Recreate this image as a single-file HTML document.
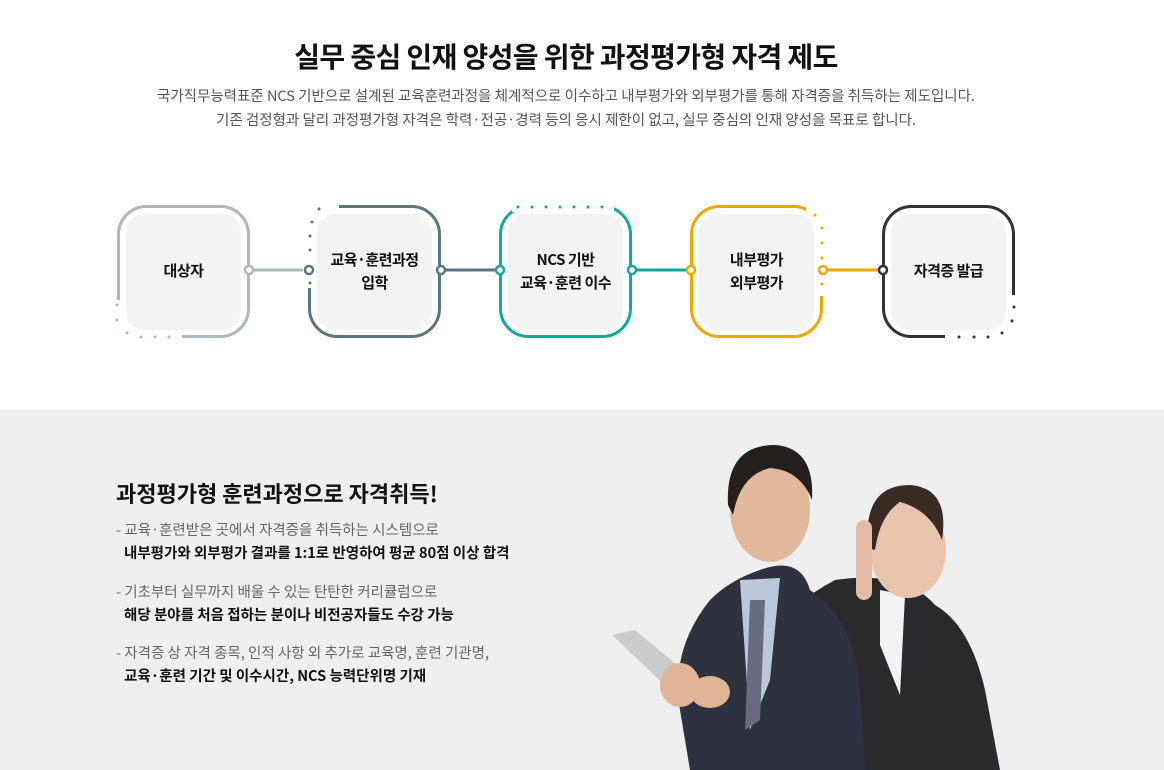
<!DOCTYPE html>
<html><head><meta charset="utf-8">
<style>
*{margin:0;padding:0;box-sizing:border-box}
body{width:1164px;height:770px;background:#fff;font-family:"Liberation Sans","Noto Sans CJK KR",sans-serif;position:relative;overflow:hidden;color:#111}
.abs{position:absolute}
h1{position:absolute;left:0;width:1132px;top:36px;text-align:center;font-size:28px;font-weight:700;letter-spacing:-0.6px;color:#111;font-family:"Noto Sans CJK KR",sans-serif}
.sub{position:absolute;left:0;width:1132px;text-align:center;font-size:14.5px;color:#555;letter-spacing:0;font-family:"Noto Sans CJK KR",sans-serif}
.lbl{position:absolute;width:115px;text-align:center;font-size:15px;font-weight:700;line-height:23px;color:#111;letter-spacing:-0.5px;font-family:"Noto Sans CJK KR",sans-serif}
.bottom{position:absolute;left:0;top:410px;width:1164px;height:360px;background:#efefef}
.h2{position:absolute;left:116px;top:477px;font-size:22px;font-weight:700;letter-spacing:0;font-family:"Noto Sans CJK KR",sans-serif}
.it{position:absolute;left:116px;font-size:14.5px;line-height:23px;letter-spacing:0;font-family:"Noto Sans CJK KR",sans-serif}
.it .g{color:#666}
.it .b{color:#111;font-weight:700;padding-left:8px}
</style></head><body>
<h1>실무 중심 인재 양성을 위한 과정평가형 자격 제도</h1>
<div class="sub" style="top:85px">국가직무능력표준 NCS 기반으로 설계된 교육훈련과정을 체계적으로 이수하고 내부평가와 외부평가를 통해 자격증을 취득하는 제도입니다.</div>
<div class="sub" style="top:109px">기존 검정형과 달리 과정평가형 자격은 학력·전공·경력 등의 응시 제한이 없고, 실무 중심의 인재 양성을 목표로 합니다.</div>

<svg class="abs" style="left:0;top:0" width="1164" height="410">
 <line x1="249" y1="270" x2="309" y2="270" stroke="#a9b9c2" stroke-width="3"/>
 <line x1="441" y1="270" x2="500" y2="270" stroke="#5a7680" stroke-width="3"/>
 <line x1="632" y1="270" x2="691" y2="270" stroke="#14a89a" stroke-width="3"/>
 <line x1="823" y1="270" x2="883" y2="270" stroke="#eaa800" stroke-width="3"/>
 <rect x="118.5" y="206.5" width="130" height="130" rx="28" fill="#fff" stroke="#a9b9c2" stroke-width="3"/>
 <rect x="112" y="300" width="70" height="45" fill="#fff"/>
 <g fill="#a9b9c2"><circle cx="117" cy="305" r="1.5"/><circle cx="117" cy="320" r="1.5"/><circle cx="127" cy="333" r="1.5"/><circle cx="141" cy="337" r="1.5"/><circle cx="155" cy="337" r="1.5"/><circle cx="169" cy="337" r="1.5"/></g>
 <rect x="309.5" y="206.5" width="130" height="130" rx="28" fill="#fff" stroke="#5a7680" stroke-width="3"/>
 <rect x="303" y="198" width="36" height="90" fill="#fff"/>
 <g fill="#5a7680"><circle cx="319" cy="209" r="1.5"/><circle cx="312" cy="222" r="1.5"/><circle cx="310" cy="236" r="1.5"/><circle cx="310" cy="250" r="1.5"/><circle cx="310" cy="283" r="1.5"/></g>
 <rect x="500.5" y="206.5" width="130" height="130" rx="28" fill="#fff" stroke="#14a89a" stroke-width="3"/>
 <rect x="512" y="200" width="102" height="12" fill="#fff"/>
 <g fill="#14a89a"><circle cx="518" cy="207" r="1.5"/><circle cx="532" cy="207" r="1.5"/><circle cx="546" cy="207" r="1.5"/><circle cx="560" cy="207" r="1.5"/><circle cx="574" cy="207" r="1.5"/><circle cx="588" cy="207" r="1.5"/><circle cx="602" cy="207" r="1.5"/></g>
 <rect x="691.5" y="206.5" width="130" height="130" rx="28" fill="#fff" stroke="#eaa800" stroke-width="3"/>
 <rect x="806" y="200" width="22" height="96" fill="#fff"/>
 <g fill="#eaa800"><circle cx="815" cy="215" r="1.5"/><circle cx="822" cy="228" r="1.5"/><circle cx="822" cy="243" r="1.5"/><circle cx="822" cy="258" r="1.5"/><circle cx="822" cy="284" r="1.5"/></g>
 <rect x="883.5" y="206.5" width="130" height="130" rx="28" fill="#fff" stroke="#333" stroke-width="3"/>
 <rect x="945" y="295" width="75" height="48" fill="#fff"/>
 <g fill="#333"><circle cx="1014" cy="307" r="1.5"/><circle cx="1012" cy="321" r="1.5"/><circle cx="1002" cy="333" r="1.5"/><circle cx="988" cy="337" r="1.5"/><circle cx="974" cy="337" r="1.5"/><circle cx="959" cy="337" r="1.5"/></g>
 <g fill="#f3f3f3">
  <rect x="126" y="214" width="115" height="116" rx="18"/>
  <rect x="317" y="214" width="115" height="116" rx="18"/>
  <rect x="508" y="214" width="115" height="116" rx="18"/>
  <rect x="699" y="214" width="115" height="116" rx="18"/>
  <rect x="891" y="214" width="115" height="116" rx="18"/>
 </g>
 <g fill="#fff" stroke-width="2.5">
  <circle cx="249" cy="270" r="4" stroke="#a9b9c2"/>
  <circle cx="309" cy="270" r="4" stroke="#5a7680"/>
  <circle cx="441" cy="270" r="4" stroke="#5a7680"/>
  <circle cx="500" cy="270" r="4" stroke="#14a89a"/>
  <circle cx="632" cy="270" r="4" stroke="#14a89a"/>
  <circle cx="691" cy="270" r="4" stroke="#eaa800"/>
  <circle cx="823" cy="270" r="4" stroke="#eaa800"/>
  <circle cx="883" cy="270" r="4" stroke="#333"/>
 </g>
</svg>
<div class="lbl" style="left:126px;top:259px">대상자</div>
<div class="lbl" style="left:317px;top:248px">교육·훈련과정<br>입학</div>
<div class="lbl" style="left:508px;top:248px">NCS 기반<br>교육·훈련 이수</div>
<div class="lbl" style="left:699px;top:248px">내부평가<br>외부평가</div>
<div class="lbl" style="left:891px;top:259px">자격증 발급</div>

<div class="bottom"></div>
<div class="h2">과정평가형 훈련과정으로 자격취득!</div>
<div class="it" style="top:518px"><div class="g">- 교육·훈련받은 곳에서 자격증을 취득하는 시스템으로</div><div class="b">내부평가와 외부평가 결과를 1:1로 반영하여 평균 80점 이상 합격</div></div>
<div class="it" style="top:580px"><div class="g">- 기초부터 실무까지 배울 수 있는 탄탄한 커리큘럼으로</div><div class="b">해당 분야를 처음 접하는 분이나 비전공자들도 수강 가능</div></div>
<div class="it" style="top:641px"><div class="g">- 자격증 상 자격 종목, 인적 사항 외 추가로 교육명, 훈련 기관명,</div><div class="b">교육·훈련 기간 및 이수시간, NCS 능력단위명 기재</div></div>

<svg class="abs" style="left:600px;top:430px" width="440" height="340">
 <path d="M235 150 Q305 140 335 175 Q370 195 385 260 L400 340 L130 340 L140 260 Q160 190 235 150Z" fill="#2a2a2d"/>
 <path d="M280 160 L305 165 L300 265 L280 215Z" fill="#f3f3f3"/>
 <ellipse cx="308" cy="120" rx="38" ry="48" fill="#e9c4ad"/>
 <path d="M268 118 Q262 55 310 55 Q350 58 342 110 Q330 80 300 72 Q280 85 275 120Z" fill="#3a2a24"/>
 <rect x="256" y="90" width="16" height="80" rx="8" fill="#e6bda4"/>
 <path d="M160 140 Q200 125 210 160 Q255 190 260 260 L265 340 L90 340 L80 280 Q70 220 110 170 Q130 150 160 140Z" fill="#2e3140"/>
 <path d="M140 150 L180 148 L170 250 L150 300Z" fill="#bcc8da"/>
 <path d="M150 170 L165 170 L160 290 L145 300Z" fill="#6a6a80"/>
 <ellipse cx="170" cy="80" rx="40" ry="52" fill="#e2b89c"/>
 <path d="M128 75 Q125 15 175 15 Q215 18 212 70 Q200 40 170 38 Q140 45 133 85Z" fill="#241e1c"/>
 <path d="M12 205 L35 200 L95 250 L75 265Z" fill="#c9cbcd"/>
 <ellipse cx="80" cy="255" rx="20" ry="22" fill="#e0b597"/>
 <ellipse cx="110" cy="262" rx="20" ry="16" fill="#e0b597"/>
</svg>
</body></html>
